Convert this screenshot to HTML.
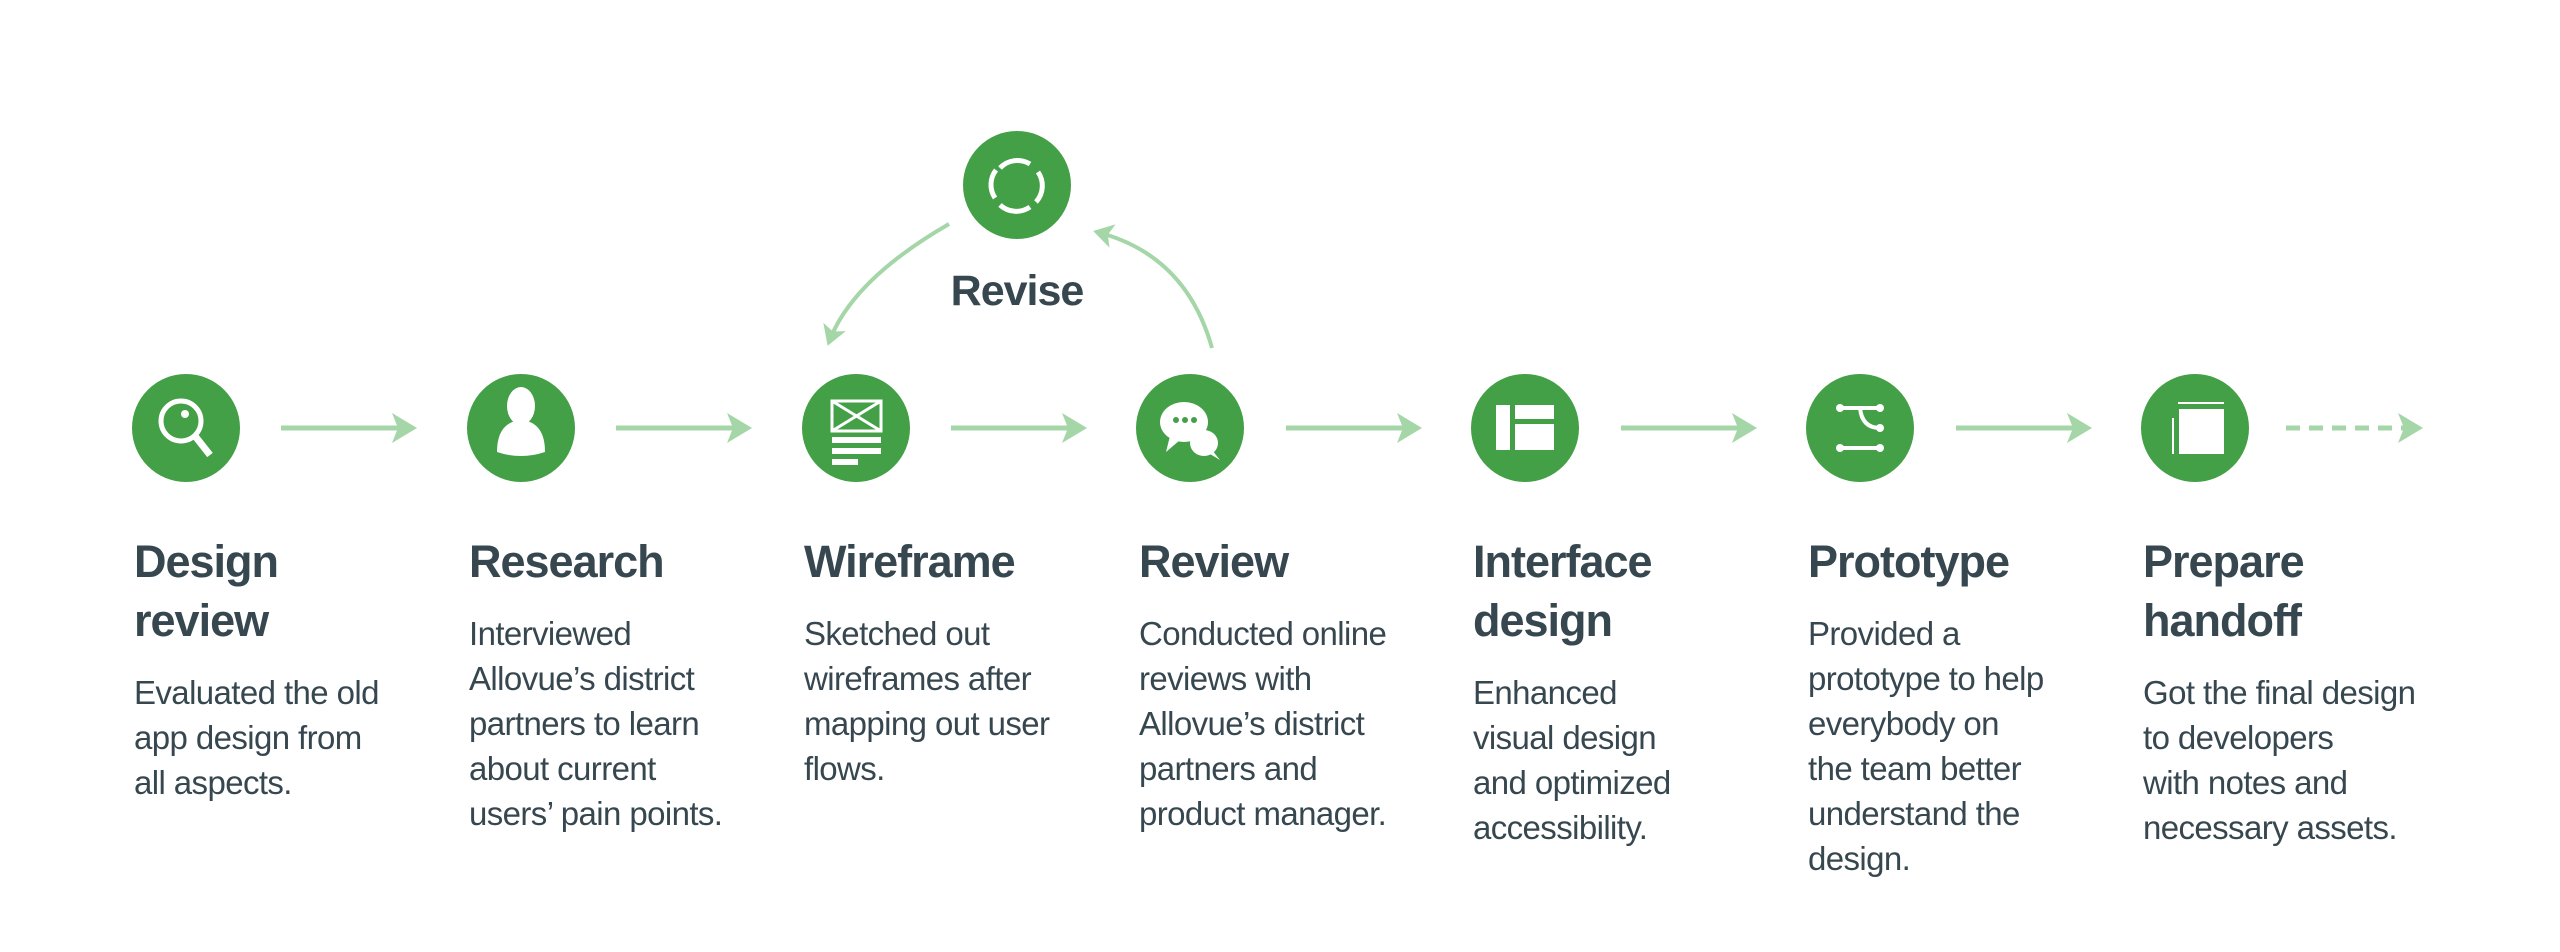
<!DOCTYPE html>
<html><head><meta charset="utf-8"><style>
body{margin:0;width:2560px;height:952px;background:#fff;overflow:hidden;position:relative;font-family:"Liberation Sans",sans-serif;color:#37474f}
.col{position:absolute;top:532px;width:400px;white-space:nowrap}
.t{font-size:45px;font-weight:bold;line-height:59px;letter-spacing:-1px}
.b{font-size:33px;line-height:45px;margin-top:20px;letter-spacing:-0.6px}
.rev{position:absolute;left:937px;top:267px;width:160px;text-align:center;font-size:43px;font-weight:bold;letter-spacing:-1px}
</style></head><body>
<svg width="2560" height="952" style="position:absolute;left:0;top:0">
<defs><marker id="a" markerWidth="6" markerHeight="6" refX="4" refY="3" orient="auto" markerUnits="strokeWidth"><path d="M0,0 L5,3 L0,6 L1.2,3Z" fill="#a5d6a7"/></marker></defs>
<g stroke="#a5d6a7" stroke-width="5" fill="none">
<line x1="281" y1="428" x2="412" y2="428" marker-end="url(#a)"/>
<line x1="616" y1="428" x2="747" y2="428" marker-end="url(#a)"/>
<line x1="951" y1="428" x2="1082" y2="428" marker-end="url(#a)"/>
<line x1="1286" y1="428" x2="1417" y2="428" marker-end="url(#a)"/>
<line x1="1621" y1="428" x2="1752" y2="428" marker-end="url(#a)"/>
<line x1="1956" y1="428" x2="2087" y2="428" marker-end="url(#a)"/>
<line x1="2286" y1="428" x2="2418" y2="428" stroke-dasharray="14 9" marker-end="url(#a)"/>
<path d="M949,224 Q852,280 829,342" stroke-width="4" marker-end="url(#a)"/>
<path d="M1212,348 Q1186,255 1097,232" stroke-width="4" marker-end="url(#a)"/>
</g>
<g fill="#43a047">
<circle cx="186" cy="428" r="54"/><circle cx="521" cy="428" r="54"/><circle cx="856" cy="428" r="54"/>
<circle cx="1190" cy="428" r="54"/><circle cx="1525" cy="428" r="54"/><circle cx="1860" cy="428" r="54"/>
<circle cx="2195" cy="428" r="54"/><circle cx="1017" cy="185" r="54"/>
</g>
<g fill="none" stroke="#fff" stroke-width="5">
<circle cx="181" cy="421" r="20"/><line x1="195" y1="436" x2="210" y2="455" stroke-width="7"/>
</g>
<circle cx="185" cy="414" r="4" fill="#fff"/>
<ellipse cx="521" cy="406" rx="14" ry="19" fill="#fff"/>
<path d="M497,452 Q497,422 521,420 Q545,422 545,452 Q521,460 497,452Z" fill="#fff"/>
<g stroke="#fff" stroke-width="3" fill="none"><rect x="832" y="401" width="49" height="30"/><line x1="832" y1="401" x2="881" y2="431"/><line x1="881" y1="401" x2="832" y2="431"/></g>
<g fill="#fff"><rect x="832" y="437" width="49" height="6"/><rect x="832" y="448" width="49" height="6"/><rect x="832" y="459" width="26" height="6"/></g>
<ellipse cx="1184" cy="422" rx="24" ry="20" fill="#fff"/><path d="M1170,436 L1166,452 L1180,440Z" fill="#fff"/>
<ellipse cx="1204" cy="443" rx="14" ry="13" fill="#fff"/><path d="M1212,450 L1220,460 L1210,454Z" fill="#fff"/>
<g fill="#43a047"><circle cx="1176" cy="420" r="3"/><circle cx="1185" cy="420" r="3"/><circle cx="1194" cy="420" r="3"/></g>
<g fill="#fff"><rect x="1496" y="405" width="14" height="45"/><rect x="1515" y="405" width="39" height="14"/><rect x="1515" y="424" width="39" height="26"/></g>
<g stroke="#fff" stroke-width="4" fill="none" stroke-linecap="round"><line x1="1840" y1="408" x2="1880" y2="408"/><path d="M1860,408 Q1862,428 1880,428"/><line x1="1840" y1="448" x2="1880" y2="448"/></g>
<g fill="#fff"><circle cx="1840" cy="408" r="4"/><circle cx="1880" cy="408" r="4"/><circle cx="1880" cy="428" r="4"/><circle cx="1840" cy="448" r="4"/><circle cx="1880" cy="448" r="4"/></g>
<g stroke="#fff" stroke-width="2"><line x1="2178" y1="403" x2="2224" y2="403"/><line x1="2173" y1="418" x2="2173" y2="454"/></g>
<rect x="2179" y="409" width="45" height="45" fill="#fff"/>
<g stroke="#fff" stroke-width="5" fill="none"><path d="M1000,168 A24,24 0 0 1 1030,164"/><path d="M1038,172 A24,24 0 0 1 1036,202"/><path d="M1030,207 A24,24 0 0 1 1000,205"/><path d="M995,198 A24,24 0 0 1 996,170"/></g>
</svg>
<div class="rev">Revise</div>
<div class="col" style="left:134px"><div class="t">Design<br>review</div><div class="b">Evaluated the old<br>app design from<br>all aspects.</div></div>
<div class="col" style="left:469px"><div class="t">Research</div><div class="b">Interviewed<br>Allovue’s district<br>partners to learn<br>about current<br>users’ pain points.</div></div>
<div class="col" style="left:804px"><div class="t">Wireframe</div><div class="b">Sketched out<br>wireframes after<br>mapping out user<br>flows.</div></div>
<div class="col" style="left:1139px"><div class="t">Review</div><div class="b">Conducted online<br>reviews with<br>Allovue’s district<br>partners and<br>product manager.</div></div>
<div class="col" style="left:1473px"><div class="t">Interface<br>design</div><div class="b">Enhanced<br>visual design<br>and optimized<br>accessibility.</div></div>
<div class="col" style="left:1808px"><div class="t">Prototype</div><div class="b">Provided a<br>prototype to help<br>everybody on<br>the team better<br>understand the<br>design.</div></div>
<div class="col" style="left:2143px"><div class="t">Prepare<br>handoff</div><div class="b">Got the final design<br>to developers<br>with notes and<br>necessary assets.</div></div>
</body></html>
